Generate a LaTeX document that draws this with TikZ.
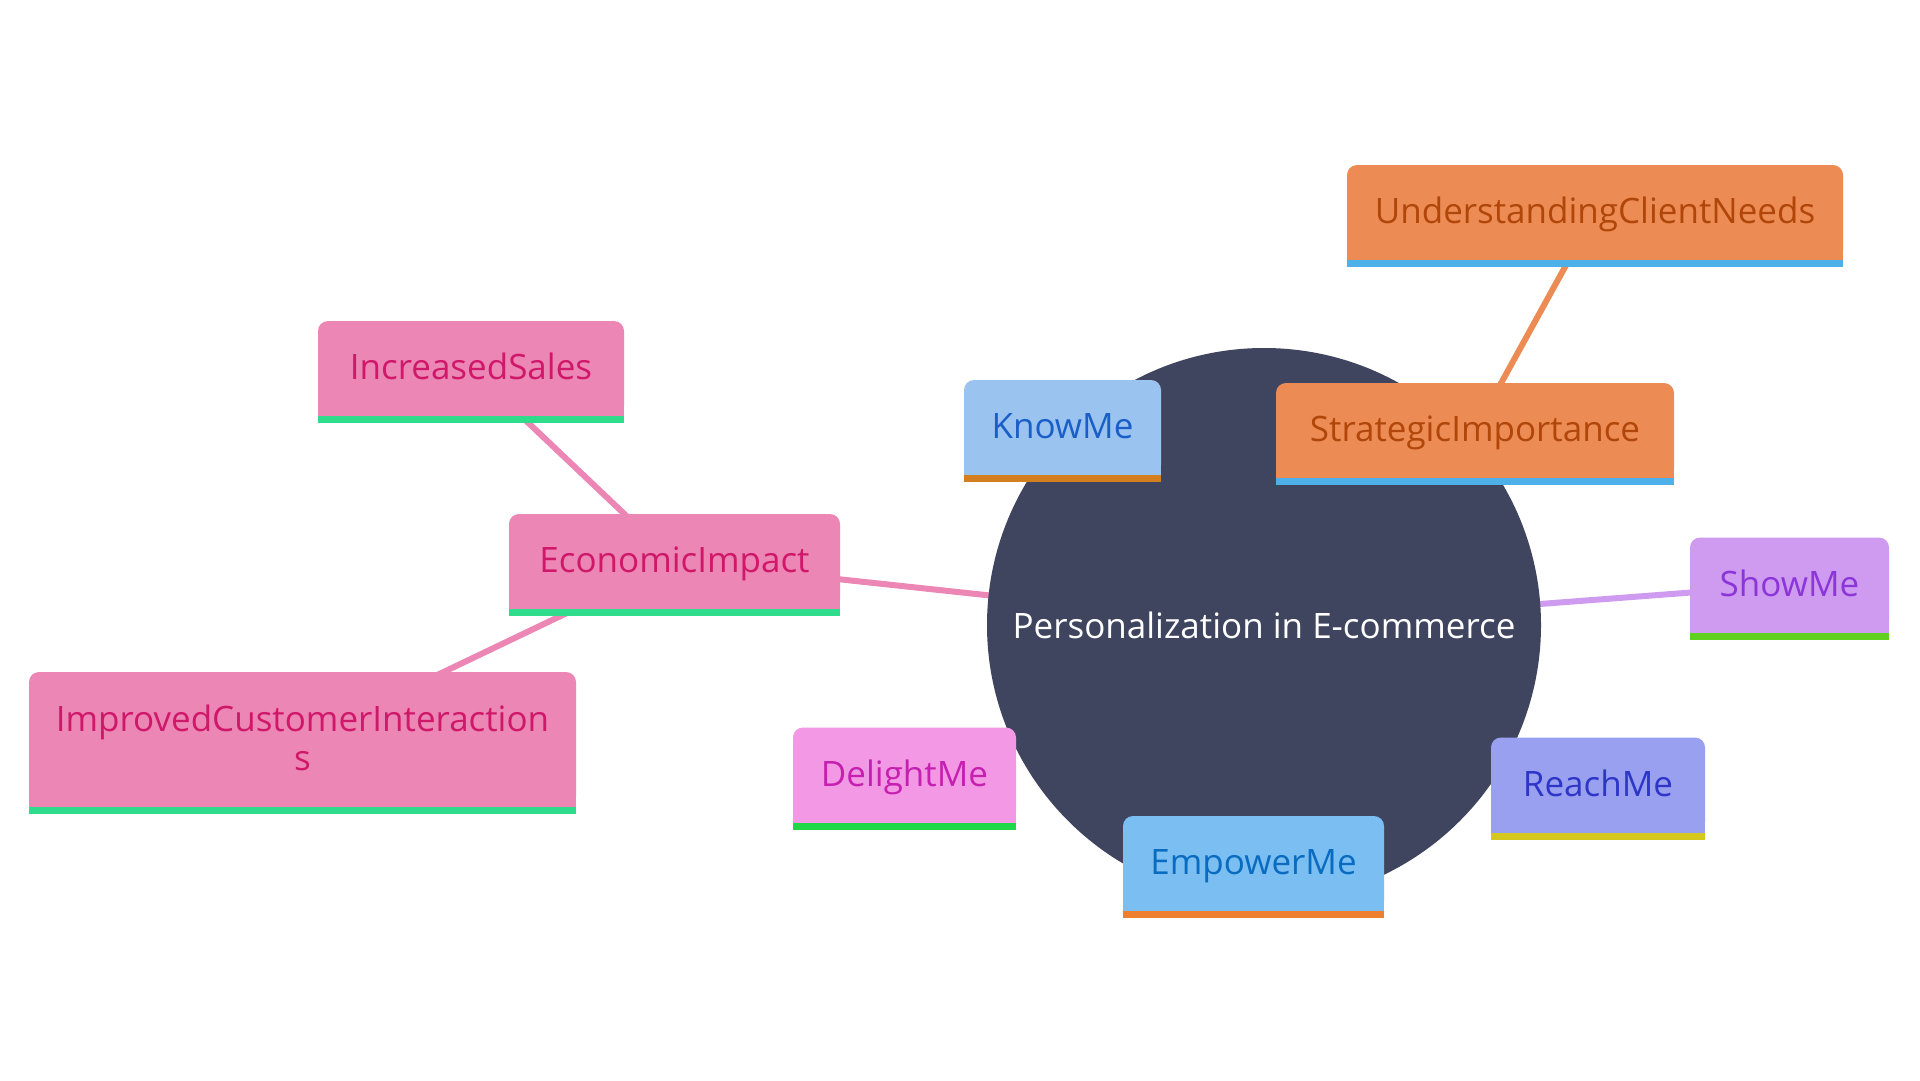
\documentclass[tikz,border=0pt]{standalone}
\usepackage{fontspec}
\usepackage{tikz}
\usepackage{xcolor}
\setmainfont{Open Sans}

\definecolor{hubfill}{HTML}{3F455E}
\definecolor{orgfill}{HTML}{EC8C54}
\definecolor{orgtext}{HTML}{B0460A}
\definecolor{orgbar}{HTML}{4EB0E8}
\definecolor{knowfill}{HTML}{9BC3F0}
\definecolor{knowtext}{HTML}{1A5FC8}
\definecolor{knowbar}{HTML}{D47F1F}
\definecolor{showfill}{HTML}{CE9BF0}
\definecolor{showtext}{HTML}{8C35D8}
\definecolor{showbar}{HTML}{62D020}
\definecolor{reachfill}{HTML}{9AA0F0}
\definecolor{reachtext}{HTML}{2E36C8}
\definecolor{reachbar}{HTML}{D4C81E}
\definecolor{empfill}{HTML}{7BBFF2}
\definecolor{emptext}{HTML}{0A6CC0}
\definecolor{empbar}{HTML}{EE7F2E}
\definecolor{delfill}{HTML}{F298E4}
\definecolor{deltext}{HTML}{C520B0}
\definecolor{delbar}{HTML}{1FD84A}
\definecolor{econfill}{HTML}{EC86B4}
\definecolor{econtext}{HTML}{D0186A}
\definecolor{econbar}{HTML}{2EDC8C}

\pgfdeclarelayer{bg}
\pgfsetlayers{bg,main}

\tikzset{
  mmbox/.style={rounded corners=10pt, inner sep=0pt, minimum height=95pt,
    text height=30pt, text depth=8pt,
    align=center, font=\fontsize{35}{39}\selectfont},
  mmedge/.style={line width=6pt}
}

% square bottom corners and coloured foot bar
\newcommand{\mmfoot}[3]{%
  \fill[#2] ([yshift=12pt]#1.south west) rectangle (#1.south east);
  \fill[#3] (#1.south west) rectangle ([yshift=-7pt]#1.south east);}

\begin{document}
\begin{tikzpicture}[x=1pt, y=-1pt]
    \node[circle, fill=hubfill, minimum size=554pt, inner sep=0pt, text=white,
      font=\fontsize{35}{39}\selectfont] (hub) at (1264,625) {Personalization in E-commerce};

    \node[mmbox, fill=orgfill, text=orgtext, minimum width=496pt] (needs) at (1595,212.5) {UnderstandingClientNeeds};
    \mmfoot{needs}{orgfill}{orgbar}
    \node[mmbox, fill=orgfill, text=orgtext, minimum width=398pt] (strat) at (1475,430.5) {StrategicImportance};
    \mmfoot{strat}{orgfill}{orgbar}
    \node[mmbox, fill=knowfill, text=knowtext, minimum width=197pt] (know) at (1062.5,427.5) {KnowMe};
    \mmfoot{know}{knowfill}{knowbar}
    \node[mmbox, fill=showfill, text=showtext, minimum width=199pt] (show) at (1789.5,585) {ShowMe};
    \mmfoot{show}{showfill}{showbar}
    \node[mmbox, fill=reachfill, text=reachtext, minimum width=214pt] (reach) at (1598,785) {ReachMe};
    \mmfoot{reach}{reachfill}{reachbar}
    \node[mmbox, fill=empfill, text=emptext, minimum width=261pt] (empower) at (1253.5,863.5) {EmpowerMe};
    \mmfoot{empower}{empfill}{empbar}
    \node[mmbox, fill=delfill, text=deltext, minimum width=223pt] (delight) at (904.5,775) {DelightMe};
    \mmfoot{delight}{delfill}{delbar}
    \node[mmbox, fill=econfill, text=econtext, minimum width=331pt] (econ) at (674.5,561.5) {EconomicImpact};
    \mmfoot{econ}{econfill}{econbar}
    \node[mmbox, fill=econfill, text=econtext, minimum width=306pt] (sales) at (471,368.5) {IncreasedSales};
    \mmfoot{sales}{econfill}{econbar}
    \node[mmbox, fill=econfill, text=econtext, minimum width=547pt, minimum height=135pt,
      text height=69pt] (interact) at (302.5,739.5) {ImprovedCustomerInteraction\\s};
    \mmfoot{interact}{econfill}{econbar}

    \begin{pgfonlayer}{bg}
    \fill[white] (0,0) rectangle (1920,1080);
    \draw[mmedge, econfill] (hub.center) -- (econ.center);
    \draw[mmedge, econfill] (econ.center) -- (sales.center);
    \draw[mmedge, econfill] (econ.center) -- (interact.center);
    \draw[mmedge, showfill] (hub.center) -- (show.center);
    \draw[mmedge, orgfill] (strat.center) -- (needs.center);
    \end{pgfonlayer}
\end{tikzpicture}
\end{document}
